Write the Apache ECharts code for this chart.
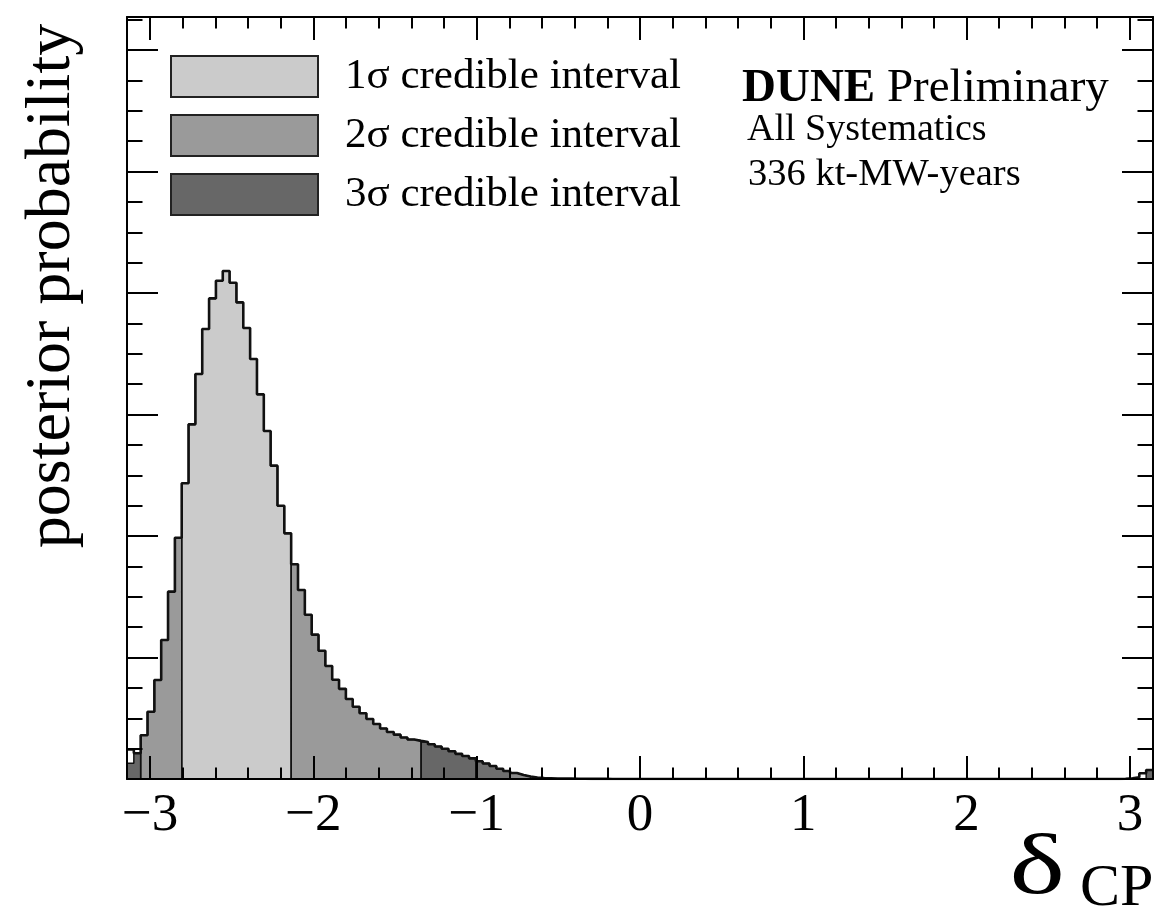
<!DOCTYPE html>
<html>
<head>
<meta charset="utf-8">
<script src="https://cdn.jsdelivr.net/npm/echarts@6/dist/echarts.min.js"></script>
<style>
html, body { margin: 0; padding: 0; background: #fff; }
#chart { width: 1155px; height: 920px; }
</style>
</head>
<body>
<div id="chart"></div>
<script>
// 150 bins from -pi to pi, posterior (1 unit = one major y tick)
var nBins = 150;
var xMin = -Math.PI, xMax = Math.PI;

var posterior = [
    0.244, 0.212, 0.360, 0.554, 0.815, 1.144, 1.542, 1.986, 2.434, 2.919,
    3.333, 3.704, 3.956, 4.101, 4.181, 4.085, 3.923, 3.712, 3.457, 3.166,
    2.864, 2.579, 2.249, 2.022, 1.767, 1.556, 1.352, 1.188, 1.056, 0.930,
    0.817, 0.742, 0.658, 0.595, 0.541, 0.494, 0.453, 0.416, 0.387, 0.365,
    0.342, 0.325, 0.314, 0.305, 0.286, 0.267, 0.249, 0.228, 0.207, 0.189,
    0.170, 0.146, 0.127, 0.107, 0.084, 0.066, 0.049, 0.033, 0.021, 0.012,
    0.008, 0.006, 0.004, 0.003, 0.003, 0.002, 0.002, 0.001, 0.001, 0.001,
    0, 0, 0, 0, 0, 0, 0, 0, 0, 0,
    0, 0, 0, 0, 0, 0, 0, 0, 0, 0,
    0, 0, 0, 0, 0, 0, 0, 0, 0, 0,
    0, 0, 0, 0, 0, 0, 0, 0, 0, 0,
    0, 0, 0, 0, 0, 0, 0, 0, 0, 0,
    0, 0, 0, 0, 0, 0, 0, 0, 0, 0,
    0, 0, 0, 0, 0, 0, 0, 0, 0, 0,
    0, 0, 0, 0, 0, 0.002, 0.006, 0.014, 0.047, 0.074
];
// the first bin's shaded part sits lower than its outline
var fillOverride = { 0: 0.130 };

// credible-interval bin ranges [first, last, colour]
var sigma1Ranges = [[8, 23, '#cbcbcb']];
var sigma2Ranges = [[2, 7, '#9a9a9a'], [24, 42, '#9a9a9a']];
var sigma3Ranges = [[0, 1, '#676767'], [43, 50, '#676767'], [51, 55, '#6e6e6e'], [56, 58, '#8a8a8a'], [149, 149, '#676767']];

var intervalNames = ['1σ credible interval', '2σ credible interval', '3σ credible interval'];
var intervalColors = ['#cbcbcb', '#9a9a9a', '#676767'];

var xMajorTicks = [-3, -2, -1, 0, 1, 2, 3];
var yMajorTicks = [0, 1, 2, 3, 4, 5, 6];
var yMax = 6.272;

var binWidth = (xMax - xMin) / nBins;
function edge(i) { return xMin + i * binWidth; }

var xMinorTicks = [];
for (var t = -3; t <= 3.001; t += 0.2) {
    var r = Math.round(t * 10) / 10;
    if (Math.abs(r - Math.round(r)) > 0.01) xMinorTicks.push(r);
}
var yMinorTicks = [];
for (var u = 0.25; u <= yMax; u += 0.25) {
    if (Math.abs(u - Math.round(u)) > 0.01) yMinorTicks.push(u);
}

function fillValue(i) {
    return fillOverride[i] !== undefined ? fillOverride[i] : posterior[i];
}

// step outline of a bin range, closed down to zero at both ends
function regionPoints(first, last) {
    var pts = [[edge(first), 0]];
    for (var i = first; i <= last; i++) pts.push([edge(i), fillValue(i)]);
    pts.push([edge(last + 1), fillValue(last)]);
    pts.push([edge(last + 1), 0]);
    return pts;
}

function outlinePoints() {
    var pts = [];
    for (var i = 0; i < nBins; i++) pts.push([edge(i), posterior[i]]);
    pts.push([xMax, posterior[nBins - 1]]);
    return pts;
}

var serif = '"Liberation Serif", "DejaVu Serif", serif';

function xAxisDef(pos, ticks, len, showLine, showLabel) {
    return {
        type: 'value', min: xMin, max: xMax, position: pos, z: 10,
        axisLine: { show: showLine, onZero: false, lineStyle: { color: '#000', width: 2 } },
        axisTick: { show: true, inside: true, length: len, customValues: ticks, lineStyle: { color: '#000', width: 2 } },
        axisLabel: {
            show: showLabel, customValues: ticks, margin: 11,
            fontFamily: serif, fontSize: 53, color: '#000',
            formatter: function(v) { return v < 0 ? '\u2212' + (-v) : String(v); }
        },
        splitLine: { show: false }
    };
}

function yAxisDef(pos, ticks, len, showLine) {
    return {
        type: 'value', min: 0, max: yMax, position: pos, z: 10,
        axisLine: { show: showLine, onZero: false, lineStyle: { color: '#000', width: 2 } },
        axisTick: { show: true, inside: true, length: len, customValues: ticks, lineStyle: { color: '#000', width: 2 } },
        axisLabel: { show: false },
        splitLine: { show: false }
    };
}

var series = [];
[sigma1Ranges, sigma2Ranges, sigma3Ranges].forEach(function(ranges, k) {
    ranges.forEach(function(rg) {
        series.push({
            name: intervalNames[k],
            type: 'line',
            step: 'end',
            symbol: 'none',
            silent: true,
            z: 3,
            itemStyle: { color: rg[2] },
            lineStyle: { color: '#111', width: 1.5 },
            areaStyle: { color: rg[2], opacity: 1 },
            data: regionPoints(rg[0], rg[1])
        });
    });
});
series.push({
    name: 'posterior',
    type: 'line',
    step: 'end',
    symbol: 'none',
    silent: true,
    z: 5,
    lineStyle: { color: '#111', width: 2.6 },
    data: outlinePoints()
});

var chart = echarts.init(document.getElementById('chart'), null, { renderer: 'canvas' });

var option = {
    animation: false,
    backgroundColor: '#fff',
    grid: { left: 127, right: 2, top: 17, bottom: 141, containLabel: false },
    xAxis: [
        xAxisDef('bottom', xMajorTicks, 23, true, true),
        xAxisDef('bottom', xMinorTicks, 11.5, false, false),
        xAxisDef('top', xMajorTicks, 23, true, false),
        xAxisDef('top', xMinorTicks, 11.5, false, false)
    ],
    yAxis: [
        yAxisDef('left', yMajorTicks, 31, true),
        yAxisDef('left', yMinorTicks, 15.5, false),
        yAxisDef('right', yMajorTicks, 31, true),
        yAxisDef('right', yMinorTicks, 15.5, false)
    ],
    legend: {
        left: 165, top: 50,
        orient: 'vertical',
        selectedMode: false,
        itemWidth: 147, itemHeight: 41, itemGap: 16,
        textStyle: { fontFamily: serif, fontSize: 43, color: '#000', padding: [0, 0, 0, 22] },
        data: intervalNames.map(function(n, k) {
            return { name: n, icon: 'rect', itemStyle: { color: intervalColors[k], borderColor: '#222', borderWidth: 2 } };
        })
    },
    graphic: [
        {
            type: 'text', x: 52, y: 286, rotation: Math.PI / 2,
            style: { text: 'posterior probability', font: '64px ' + serif, fill: '#000', align: 'center', verticalAlign: 'middle' }
        },
        {
            type: 'text', x: 1065, y: 871, scaleX: 1.4,
            style: { text: 'δ', font: '84px ' + serif, fill: '#000', align: 'right', verticalAlign: 'middle' }
        },
        {
            type: 'text', x: 1080, y: 889,
            style: { text: 'CP', font: '60px ' + serif, fill: '#000', align: 'left', verticalAlign: 'middle' }
        },
        {
            type: 'text', x: 742, y: 89,
            style: {
                text: '{b|DUNE}{n| Preliminary}', verticalAlign: 'middle',
                rich: {
                    b: { fontFamily: serif, fontSize: 47, fontWeight: 'bold', fill: '#000' },
                    n: { fontFamily: serif, fontSize: 47, fill: '#000' }
                }
            }
        },
        {
            type: 'text', x: 747, y: 130,
            style: { text: 'All Systematics', font: '38px ' + serif, fill: '#000', verticalAlign: 'middle' }
        },
        {
            type: 'text', x: 748, y: 175,
            style: { text: '336 kt-MW-years', font: '38.5px ' + serif, fill: '#000', verticalAlign: 'middle' }
        }
    ],
    series: series
};

chart.setOption(option);
</script>
</body>
</html>
